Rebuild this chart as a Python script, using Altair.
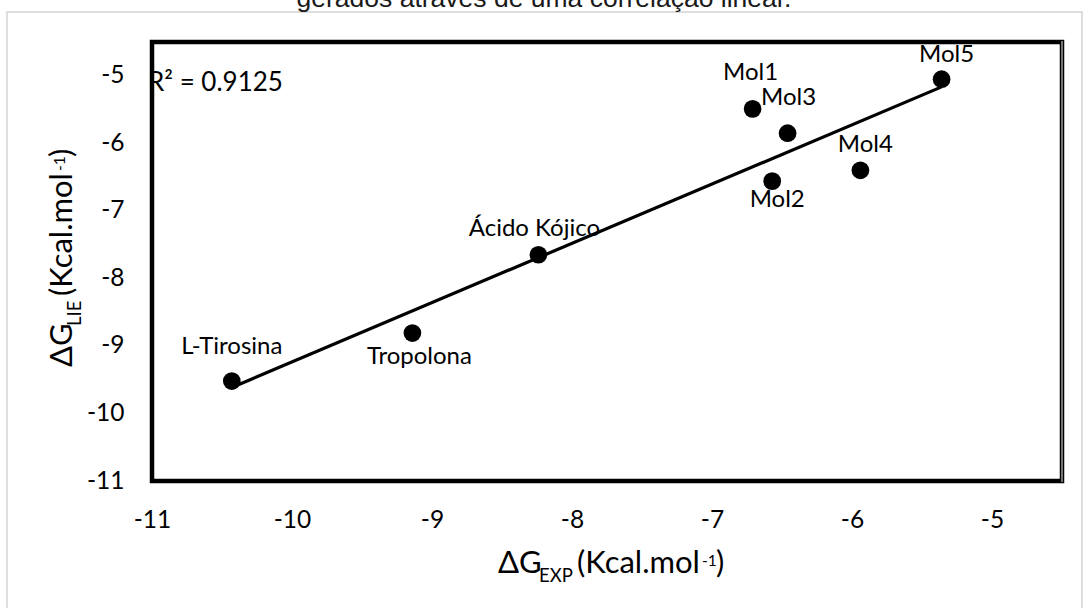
import altair as alt
import pandas as pd

# ---- data ----
names = ["L-Tirosina", "Tropolona", "Ácido Kójico", "Mol1", "Mol2", "Mol3", "Mol4", "Mol5"]
dg_exp = [-10.43, -9.14, -8.24, -6.71, -6.57, -6.46, -5.94, -5.36]
dg_lie = [-9.52, -8.81, -7.65, -5.49, -6.56, -5.85, -6.40, -5.05]
x_ticks = [-11, -10, -9, -8, -7, -6, -5]
y_ticks = [-11, -10, -9, -8, -7, -6, -5]
r2_text = "R² = 0.9125"
title_text = "gerados através de uma correlação linear."
# axis-title pieces: (text, kind) main / sub / sup
x_title_parts = [("ΔG", "main"), ("EXP", "sub"), ("(Kcal.mol", "main"), ("-1", "sup"), (")", "main")]
y_title_parts = [("ΔG", "main"), ("LIE", "sub"), ("(Kcal.mol", "main"), ("-1", "sup"), (")", "main")]

df = pd.DataFrame({"name": names, "exp": dg_exp, "lie": dg_lie})

# ---- layout / style ----
W, H = 910, 439
FONT = "Lato, 'Noto Sans', sans-serif"
label_offsets = {
    "L-Tirosina": (0, -27), "Tropolona": (7, 31), "Ácido Kójico": (-4, -19),
    "Mol1": (-2, -29), "Mol2": (5, 26), "Mol3": (1, -28), "Mol4": (5, -18), "Mol5": (5, -17),
}
part_style = {"main": (31, 0), "sub": (18.5, 9), "sup": (15.5, -7)}
x_part_along = [0, 41, 79, 204, 218]
y_part_along = [0, 41, 71, 196, 210]

xs = alt.Scale(domain=[-11, -4.5], nice=False, zero=False)
ys = alt.Scale(domain=[-11, -4.5], nice=False, zero=False)

one = alt.Data(values=[{"a": 1}])
LABEL_EXPR = "'' + datum.value"

border = alt.Chart(one).mark_rect(filled=False, stroke="#d4d4d4", strokeWidth=1.5).encode(
    x=alt.value(-145), x2=alt.value(930), y=alt.value(-30), y2=alt.value(575)
)

base = alt.Chart(df)
points = base.mark_circle(size=314, color="black", opacity=1).encode(
    x=alt.X("exp:Q", scale=xs, title="",
            axis=alt.Axis(values=x_ticks, ticks=False, domain=False, grid=False,
                          labelExpr=LABEL_EXPR,
                          labelFont=FONT, labelFontSize=24.5, labelColor="black",
                          labelPadding=27, labelFlush=False, labelOverlap=False, title="")),
    y=alt.Y("lie:Q", scale=ys, title="",
            axis=alt.Axis(values=y_ticks, ticks=False, domain=False, grid=False,
                          labelExpr=LABEL_EXPR,
                          labelFont=FONT, labelFontSize=24.5, labelColor="black",
                          labelPadding=28, labelFlush=False, labelOverlap=False, title="")),
)

trend = base.transform_regression("exp", "lie").mark_line(color="black", strokeWidth=3.2).encode(
    x="exp:Q", y="lie:Q"
)

label_layers = []
for n, (dx, dy) in label_offsets.items():
    label_layers.append(
        base.transform_filter(alt.datum.name == n).mark_text(
            dx=dx, dy=dy, align="center", baseline="alphabetic",
            font=FONT, fontSize=24, color="black"
        ).encode(x="exp:Q", y="lie:Q", text="name:N")
    )

r2 = alt.Chart(alt.Data(values=[{"t": r2_text}])).mark_text(
    align="left", baseline="alphabetic", font=FONT, fontSize=26, color="black"
).encode(x=alt.value(-4), y=alt.value(49), text="t:N")

title = alt.Chart(alt.Data(values=[{"t": title_text}])).mark_text(
    align="center", baseline="alphabetic", font="Liberation Sans, Arial, sans-serif",
    fontSize=26.5, color="#1a1a1a"
).encode(x=alt.value(392), y=alt.value(-35), text="t:N")

right_edge = alt.Chart(one).mark_rule(color="#9a9a9a", strokeWidth=1.5).encode(
    x=alt.value(W), y=alt.value(-1), y2=alt.value(H + 1)
)

title_layers = []
for i, (txt, kind) in enumerate(x_title_parts):
    fs, shift = part_style[kind]
    title_layers.append(
        alt.Chart(alt.Data(values=[{"t": txt}])).mark_text(
            align="left", baseline="alphabetic", font=FONT, fontSize=fs, color="black"
        ).encode(x=alt.value(346 + x_part_along[i]), y=alt.value(531 + shift), text="t:N")
    )
for i, (txt, kind) in enumerate(y_title_parts):
    fs, shift = part_style[kind]
    title_layers.append(
        alt.Chart(alt.Data(values=[{"t": txt}])).mark_text(
            align="left", baseline="alphabetic", font=FONT, fontSize=fs, color="black", angle=270
        ).encode(x=alt.value(-80 + shift), y=alt.value(325 - y_part_along[i]), text="t:N")
    )

chart = alt.layer(
    border, points, trend, *label_layers, r2, title, right_edge, *title_layers
).properties(
    width=W, height=H,
    padding={"left": 152, "top": 42, "right": 27, "bottom": 127},
    autosize=alt.AutoSizeParams(type="none"),
    background="white",
).configure_view(stroke="black", strokeWidth=4.5)

chart.save("out.html", embed_options={"renderer": "svg", "actions": False})
